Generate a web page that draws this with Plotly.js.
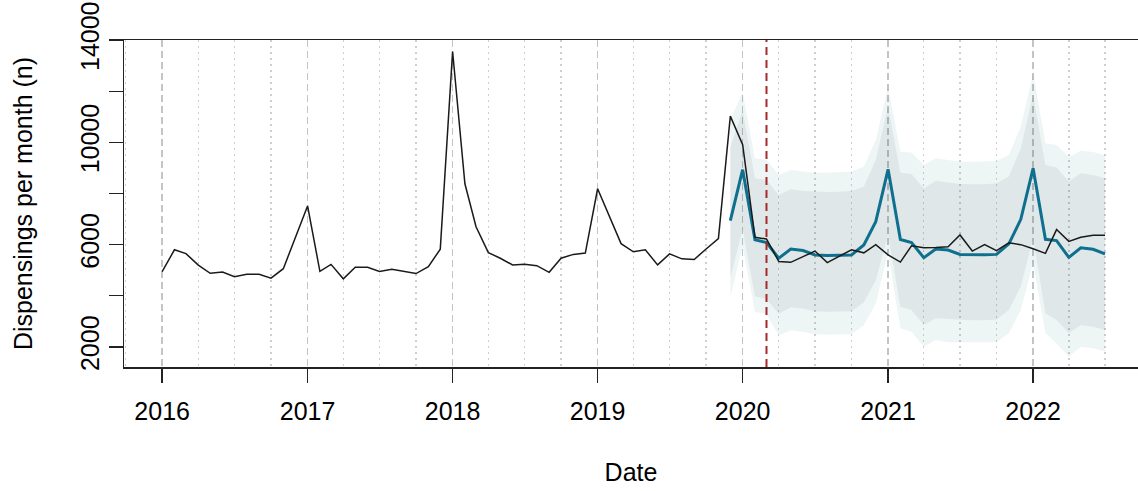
<!DOCTYPE html>
<html>
<head>
<meta charset="utf-8">
<script src="https://cdn.plot.ly/plotly-3.0.1.min.js"></script>
<style>html,body{margin:0;padding:0;background:#fff;}#chart{width:1138px;height:491px;}</style>
</head>
<body>
<div id="chart"></div>
<script>
// Observed monthly dispensings, Jan 2016 - Jul 2022
const months = [
 '2016-01-01','2016-02-01','2016-03-01','2016-04-01','2016-05-01','2016-06-01','2016-07-01','2016-08-01','2016-09-01','2016-10-01','2016-11-01','2016-12-01',
 '2017-01-01','2017-02-01','2017-03-01','2017-04-01','2017-05-01','2017-06-01','2017-07-01','2017-08-01','2017-09-01','2017-10-01','2017-11-01','2017-12-01',
 '2018-01-01','2018-02-01','2018-03-01','2018-04-01','2018-05-01','2018-06-01','2018-07-01','2018-08-01','2018-09-01','2018-10-01','2018-11-01','2018-12-01',
 '2019-01-01','2019-02-01','2019-03-01','2019-04-01','2019-05-01','2019-06-01','2019-07-01','2019-08-01','2019-09-01','2019-10-01','2019-11-01','2019-12-01',
 '2020-01-01','2020-02-01','2020-03-01','2020-04-01','2020-05-01','2020-06-01','2020-07-01','2020-08-01','2020-09-01','2020-10-01','2020-11-01','2020-12-01',
 '2021-01-01','2021-02-01','2021-03-01','2021-04-01','2021-05-01','2021-06-01','2021-07-01','2021-08-01','2021-09-01','2021-10-01','2021-11-01','2021-12-01',
 '2022-01-01','2022-02-01','2022-03-01','2022-04-01','2022-05-01','2022-06-01','2022-07-01'
];
const observed = [
 4950,5800,5650,5200,4880,4930,4750,4840,4840,4690,5060,6290,
 7515,4960,5230,4665,5120,5120,4955,5040,4950,4870,5140,5825,
 13550,8380,6700,5690,5470,5205,5230,5180,4920,5470,5620,5670,
 8185,7030,6040,5720,5800,5210,5640,5445,5420,5830,6235,11025,
 9910,6290,6220,5340,5310,5530,5750,5300,5570,5800,5680,6000,
 5600,5320,5955,5880,5890,5920,6380,5750,6000,5770,6070,6000,
 5840,5660,6590,6130,6290,6365,6365
];

// Counterfactual forecast, Dec 2019 - Jul 2022
const fcMonths = [
 '2019-12-01',
 '2020-01-01','2020-02-01','2020-03-01','2020-04-01','2020-05-01','2020-06-01','2020-07-01','2020-08-01','2020-09-01','2020-10-01','2020-11-01','2020-12-01',
 '2021-01-01','2021-02-01','2021-03-01','2021-04-01','2021-05-01','2021-06-01','2021-07-01','2021-08-01','2021-09-01','2021-10-01','2021-11-01','2021-12-01',
 '2022-01-01','2022-02-01','2022-03-01','2022-04-01','2022-05-01','2022-06-01','2022-07-01'
];
const fcMean = [6940,8930,6190,6080,5470,5830,5770,5600,5580,5580,5600,5990,6900,
 8945,6200,6085,5490,5830,5790,5620,5610,5610,5620,6030,6990,
 8985,6210,6160,5500,5880,5820,5640];
const fcHi95 = [10900,11950,9375,9310,8725,8920,8855,8815,8815,8830,8855,9050,10090,
 12175,9635,9600,9115,9375,9310,9245,9245,9245,9270,9505,10610,
 12700,9960,9895,9440,9675,9620,9505];
const fcHi80 = [9800,11250,8590,8530,7940,8165,8100,8070,8060,8070,8100,8270,9310,
 11395,8815,8760,8200,8500,8440,8370,8360,8360,8400,8660,9765,
 11850,9115,9025,8465,8790,8725,8595];
const fcLo80 = [4700,6600,3980,3880,3300,3550,3500,3400,3380,3380,3400,3750,4600,
 6400,3576,3446,2860,3120,3090,3060,3050,3050,3070,3446,4360,
 6250,3316,3055,2534,2860,2795,2665];
const fcLo95 = [3950,5950,3380,3280,2450,2650,2600,2500,2480,2480,2500,2850,3700,
 5700,2730,2600,2012,2274,2183,2183,2183,2183,2183,2534,3446,
 5300,2534,2144,1622,2012,1948,1817];

const interventionDate = '2020-03-01';
const yTickVals = [2000,4000,6000,8000,10000,12000,14000];
const yTickText = ['2000','','6000','','10000','','14000'];

const outerFill = 'rgba(0,112,112,0.07)';
const innerFill = 'rgba(0,64,72,0.125)';
const font = {family:'"Liberation Sans", Arial, sans-serif', size:25, color:'#000'};

const traces = [
 {x:fcMonths, y:fcLo95, type:'scatter', mode:'lines', line:{width:0}, hoverinfo:'skip', showlegend:false},
 {x:fcMonths, y:fcLo80, type:'scatter', mode:'lines', line:{width:0}, fill:'tonexty', fillcolor:outerFill, hoverinfo:'skip', showlegend:false},
 {x:fcMonths, y:fcHi80, type:'scatter', mode:'lines', line:{width:0}, fill:'tonexty', fillcolor:innerFill, hoverinfo:'skip', showlegend:false},
 {x:fcMonths, y:fcHi95, type:'scatter', mode:'lines', line:{width:0}, fill:'tonexty', fillcolor:outerFill, hoverinfo:'skip', showlegend:false},
 {x:fcMonths, y:fcMean, type:'scatter', mode:'lines', line:{color:'#0f6f8f', width:3}, showlegend:false},
 {x:months, y:observed, type:'scatter', mode:'lines', line:{color:'#1a1a1a', width:1.5}, showlegend:false}
];

const layout = {
 width:1138, height:491,
 margin:{l:124, r:0, t:40, b:124},
 paper_bgcolor:'#fff', plot_bgcolor:'#fff',
 font:font,
 showlegend:false,
 xaxis:{
  type:'date',
  range:['2015-09-27','2022-09-22'],
  tick0:'2016-01-01', dtick:'M12', tickformat:'%Y',
  ticks:'outside', ticklen:14, tickwidth:1.3, tickcolor:'#222',
  ticklabelstandoff:7,
  showgrid:true, gridcolor:'#c4c4c4', gridwidth:1.4, griddash:'7px,4px',
  minor:{dtick:'M3', tick0:'2016-01-01', showgrid:true, gridcolor:'#cfcfcf', gridwidth:1.3, griddash:'2px,4px', ticks:''},
  showline:true, linecolor:'#222', linewidth:1.5, mirror:true,
  zeroline:false,
  title:{text:'Date', font:font, standoff:40},
  tickfont:font
 },
 yaxis:{
  range:[1218,14000],
  tickvals:yTickVals, ticktext:yTickText,
  tickangle:-90,
  ticks:'outside', ticklen:14, tickwidth:1.3, tickcolor:'#222',
  showgrid:false, zeroline:false,
  showline:true, linecolor:'#222', linewidth:1.5, mirror:false,
  title:{text:'Dispensings per month (n)', font:font, standoff:36},
  tickfont:font
 },
 shapes:[
  {type:'line', xref:'x', yref:'paper', x0:interventionDate, x1:interventionDate, y0:0, y1:1,
   line:{color:'#a52a2a', width:2, dash:'8px,5px'}, layer:'above'}
 ]
};

Plotly.newPlot('chart', traces, layout, {staticPlot:true, displayModeBar:false});
</script>
</body>
</html>
